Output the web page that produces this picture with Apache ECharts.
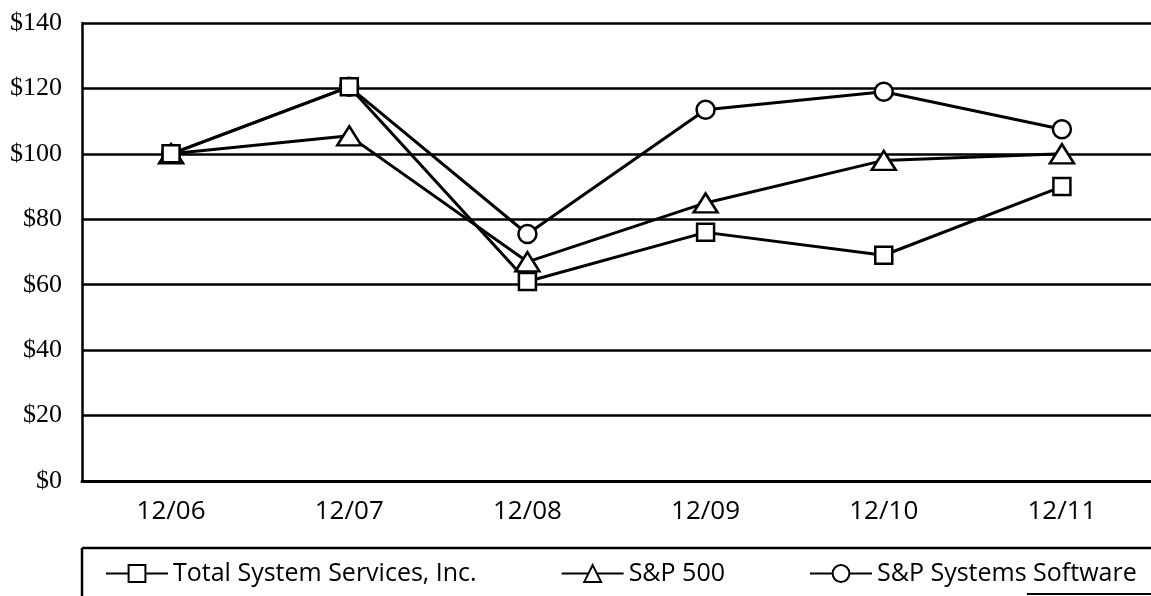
<!DOCTYPE html>
<html>
<head>
<meta charset="utf-8">
<script src="https://cdn.jsdelivr.net/npm/echarts@6/dist/echarts.min.js"></script>
<style>
  html, body { margin: 0; padding: 0; background: #fff; }
  #chart { width: 1151px; height: 596px; }
</style>
</head>
<body>
<div id="chart"></div>
<script>
const categories = ['12/06', '12/07', '12/08', '12/09', '12/10', '12/11']
const tssValues = [100, 120.5, 61, 76, 69, 90]
const sp500Values = [100, 105.5, 67, 85, 98, 100]
const softwareValues = [100, 120.5, 75.5, 113.5, 119, 107.5]
const seriesNames = ['Total System Services, Inc.', 'S&P 500', 'S&P Systems Software']

const chart = echarts.init(document.getElementById('chart'))

const lineSeries = (name, data, symbol, symbolSize, z) => ({
  name,
  type: 'line',
  data,
  symbol,
  symbolSize,
  z,
  showAllSymbol: true,
  animation: false,
  lineStyle: { color: '#000', width: 3 },
  itemStyle: { color: '#fff', borderColor: '#000', borderWidth: 2.5 }
})

chart.setOption({
  backgroundColor: '#fff',
  grid: {
    left: 82,
    right: -11,
    top: 23,
    bottom: 115
  },
  xAxis: {
    type: 'category',
    data: categories,
    boundaryGap: true,
    axisLine: { lineStyle: { color: '#000', width: 3 } },
    axisTick: {
      alignWithLabel: true,
      length: 8,
      lineStyle: { color: '#000', width: 2 }
    },
    axisLabel: {
      color: '#000',
      fontFamily: 'Open Sans',
      fontSize: 26,
      margin: 18
    }
  },
  yAxis: {
    type: 'value',
    min: 0,
    max: 140,
    interval: 20,
    axisLine: { show: true, lineStyle: { color: '#000', width: 2.5 } },
    axisTick: { show: false },
    splitLine: { lineStyle: { color: '#000', width: 2.5 } },
    axisLabel: {
      color: '#000',
      fontFamily: 'Liberation Serif',
      fontSize: 26,
      margin: 20,
      formatter: '${value}'
    }
  },
  legend: {
    left: 100,
    top: 556,
    itemWidth: 62,
    itemHeight: 21,
    itemGap: 84,
    data: seriesNames,
    textStyle: {
      color: '#000',
      fontFamily: 'Open Sans',
      fontSize: 25
    }
  },
  graphic: [
    { type: 'line', shape: { x1: 82, y1: 548, x2: 1151, y2: 548 }, style: { stroke: '#000', lineWidth: 2.5 } },
    { type: 'line', shape: { x1: 82, y1: 548, x2: 82, y2: 596 }, style: { stroke: '#000', lineWidth: 2.5 } },
    { type: 'line', shape: { x1: 1027, y1: 594, x2: 1151, y2: 594 }, style: { stroke: '#000', lineWidth: 2 } }
  ],
  series: [
    lineSeries(seriesNames[0], tssValues, 'rect', 17, 4),
    lineSeries(seriesNames[1], sp500Values, 'triangle', [24, 19], 3),
    lineSeries(seriesNames[2], softwareValues, 'circle', 18, 2)
  ]
})
</script>
</body>
</html>
